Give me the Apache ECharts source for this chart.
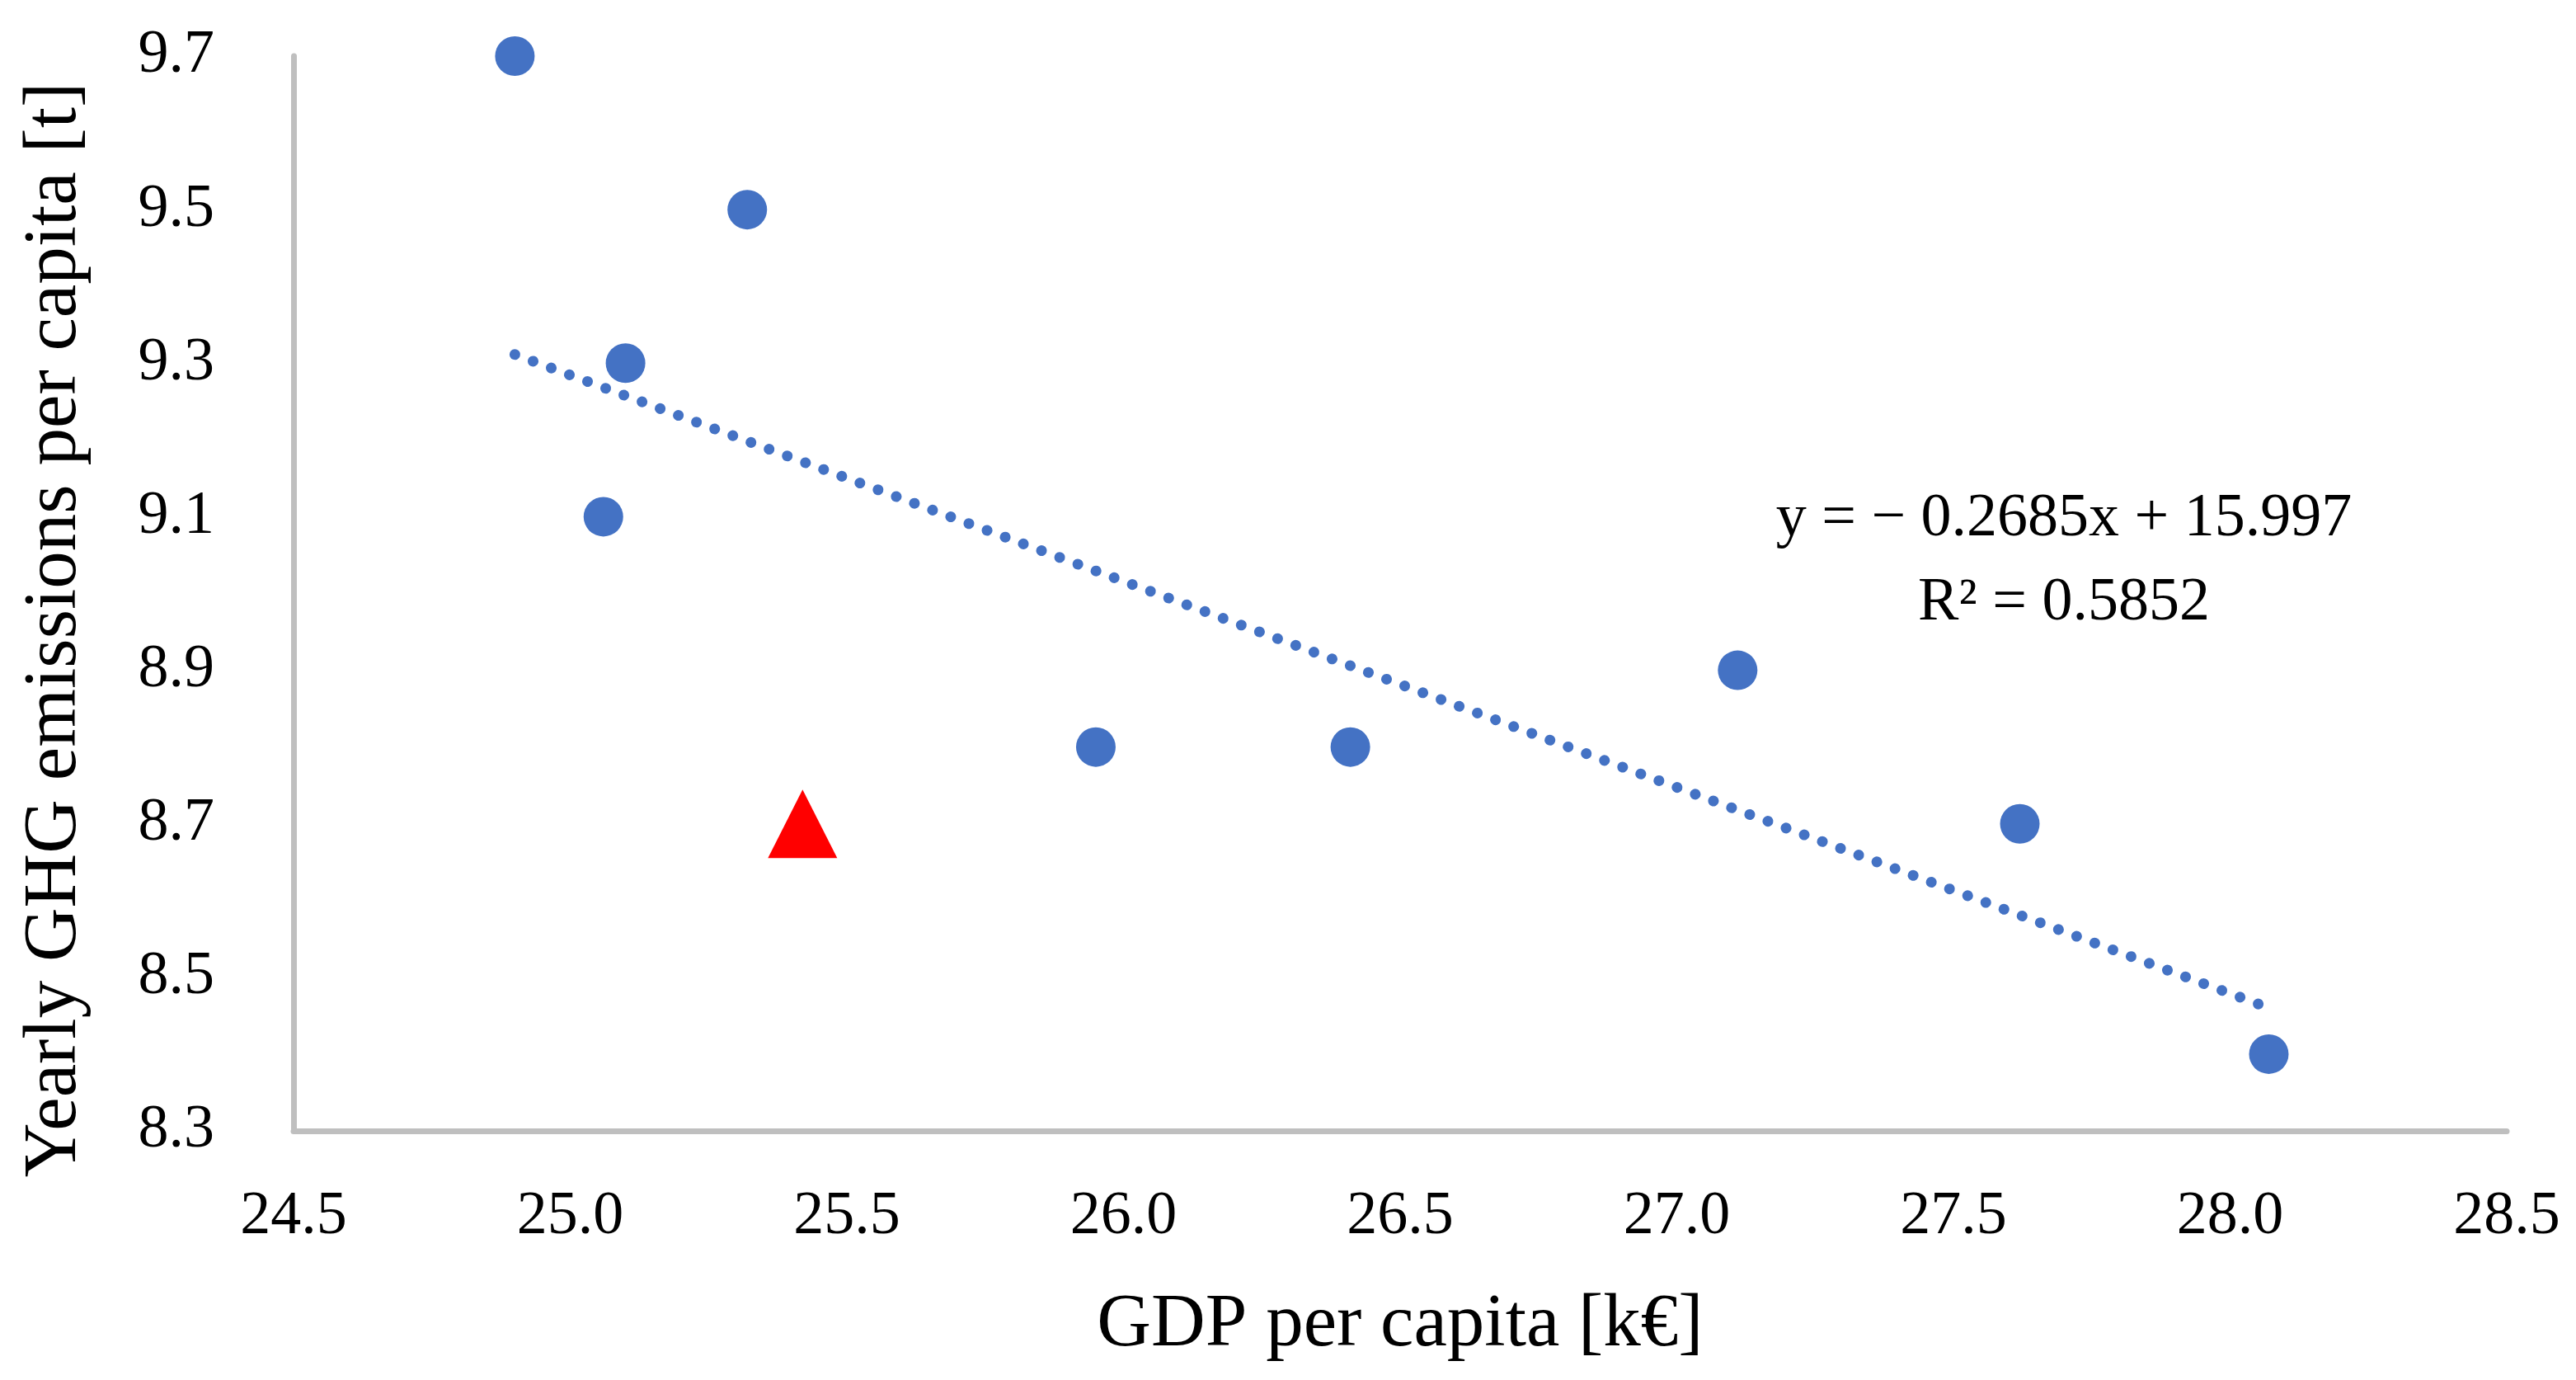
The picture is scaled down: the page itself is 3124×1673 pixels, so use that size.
<!DOCTYPE html>
<html>
<head>
<meta charset="utf-8">
<script src="https://cdn.jsdelivr.net/npm/echarts@6/dist/echarts.min.js"></script>
<style>
  html, body { margin: 0; padding: 0; background: #ffffff; }
  #chart { width: 3124px; height: 1673px; }
</style>
</head>
<body>
<div id="chart"></div>
<script>
// ---- Data ----
const gdpPerCapita = [24.90, 25.32, 25.10, 25.06, 25.95, 26.41, 27.11, 27.62, 28.07];
const ghgPerCapita = [9.7, 9.5, 9.3, 9.1, 8.8, 8.8, 8.9, 8.7, 8.4];
const highlightGdp = [25.42];
const highlightGhg = [8.7];
const xTickLabels = [24.5, 25.0, 25.5, 26.0, 26.5, 27.0, 27.5, 28.0, 28.5];
const yTickLabels = [8.3, 8.5, 8.7, 8.9, 9.1, 9.3, 9.5, 9.7];
const trendSlope = -0.2685;
const trendIntercept = 15.997;
const trendR2 = 0.5852;
const xAxisTitle = 'GDP per capita [k€]';
const yAxisTitle = 'Yearly GHG emissions per capita [t]';

// ---- Build ----
const blueData = gdpPerCapita.map((x, i) => [x, ghgPerCapita[i]]);
const redData = highlightGdp.map((x, i) => [x, highlightGhg[i]]);
const xMinData = Math.min(...gdpPerCapita);
const xMaxData = Math.max(...gdpPerCapita);
const trendData = [xMinData, xMaxData].map(x => [x, trendSlope * x + trendIntercept]);
const eqLine1 = 'y = \u2212 ' + Math.abs(trendSlope).toFixed(4) + 'x + ' + trendIntercept.toFixed(3);
const eqLine2 = 'R\u00B2 = ' + trendR2.toFixed(4);

const FONT = '"Liberation Serif", "DejaVu Serif", serif';
const AXIS_GRAY = '#BFBFBF';
const BLUE = '#4472C4';

const chart = echarts.init(document.getElementById('chart'), null, { renderer: 'canvas' });
chart.setOption({
  animation: false,
  backgroundColor: '#ffffff',
  grid: { left: 356, right: 84, top: 68, bottom: 302, containLabel: false },
  xAxis: {
    type: 'value',
    min: xTickLabels[0],
    max: xTickLabels[xTickLabels.length - 1],
    interval: 0.5,
    name: xAxisTitle,
    nameLocation: 'middle',
    nameGap: 191,
    nameTextStyle: { fontFamily: FONT, fontSize: 91, color: '#000000' },
    axisLine: { show: true, lineStyle: { color: AXIS_GRAY, width: 7 } },
    axisTick: { show: false },
    splitLine: { show: false },
    axisLabel: {
      customValues: xTickLabels,
      formatter: v => Number(v).toFixed(1),
      fontFamily: FONT, fontSize: 74, color: '#000000', margin: 68
    }
  },
  yAxis: {
    type: 'value',
    min: yTickLabels[0],
    max: yTickLabels[yTickLabels.length - 1],
    name: yAxisTitle,
    nameLocation: 'middle',
    nameGap: 243,
    nameTextStyle: { fontFamily: FONT, fontSize: 91, color: '#000000', padding: [0, 88, 0, 0] },
    axisLine: { show: true, lineStyle: { color: AXIS_GRAY, width: 7 } },
    axisTick: { show: false },
    splitLine: { show: false },
    axisLabel: {
      customValues: yTickLabels,
      formatter: v => Number(v).toFixed(1),
      fontFamily: FONT, fontSize: 74, color: '#000000', margin: 96
    }
  },
  graphic: [
    { type: 'text', x: 2503, y: 630, silent: true,
      style: { text: eqLine1, align: 'center', verticalAlign: 'middle',
               font: '74px ' + FONT, fill: '#000000' } },
    { type: 'text', x: 2503, y: 732, silent: true,
      style: { text: eqLine2, align: 'center', verticalAlign: 'middle',
               font: '74px ' + FONT, fill: '#000000' } }
  ],
  series: [
    {
      type: 'line',
      data: trendData,
      symbol: 'none',
      silent: true,
      z: 1,
      lineStyle: { color: BLUE, width: 13, type: [0.1, 23.4], cap: 'round' }
    },
    {
      type: 'scatter',
      data: blueData,
      symbol: 'circle',
      symbolSize: 48,
      z: 2,
      itemStyle: { color: BLUE, opacity: 1 }
    },
    {
      type: 'scatter',
      data: redData,
      symbol: 'triangle',
      symbolSize: [84, 83],
      z: 3,
      itemStyle: { color: '#FF0000', opacity: 1 }
    }
  ]
});
</script>
</body>
</html>
